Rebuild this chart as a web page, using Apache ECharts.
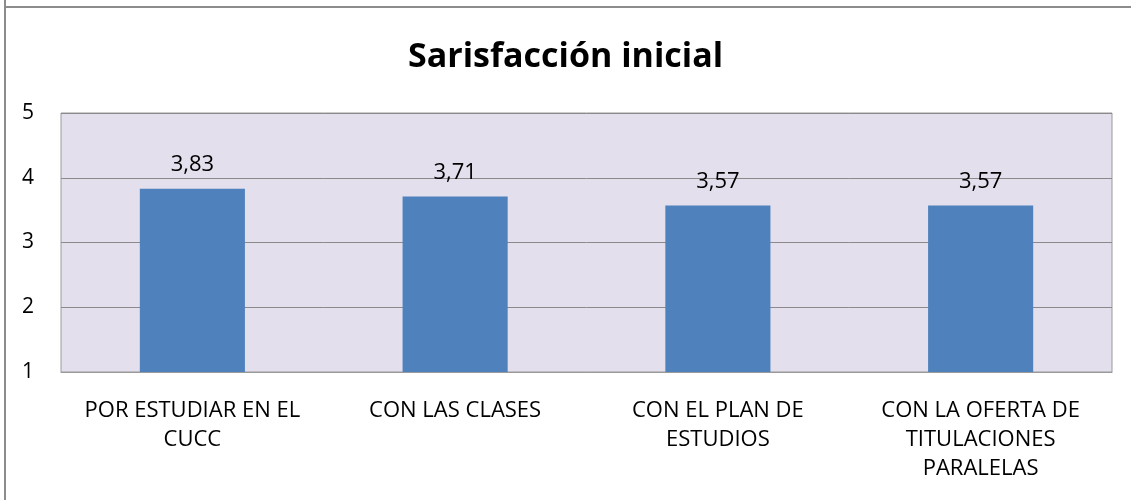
<!DOCTYPE html>
<html><head><meta charset="utf-8">
<script src="https://cdn.jsdelivr.net/npm/echarts@6/dist/echarts.min.js"></script>
<style>html,body{margin:0;padding:0;background:#fff}#c{width:1131px;height:500px}</style>
</head><body><div id="c"></div>
<script>
const titleText = 'Sarisfacción inicial';
const categories = ['POR ESTUDIAR EN EL\nCUCC', 'CON LAS CLASES', 'CON EL PLAN DE\nESTUDIOS', 'CON LA OFERTA DE\nTITULACIONES\nPARALELAS'];
const values = [3.83, 3.71, 3.57, 3.57];
const yTicks = [1, 2, 3, 4, 5];

const chart = echarts.init(document.getElementById('c'));
chart.setOption({
  animation: false,
  backgroundColor: '#fff',
  graphic: [
    { type: 'line', shape: { x1: 5, y1: 0, x2: 5, y2: 500 }, style: { stroke: '#8c8c8c', lineWidth: 2 } },
    { type: 'line', shape: { x1: 4, y1: 7, x2: 1131, y2: 7 }, style: { stroke: '#8c8c8c', lineWidth: 2 } }
  ],
  title: {
    text: titleText, left: 'center', top: 35,
    textStyle: { fontFamily: 'Open Sans', fontSize: 34, fontWeight: 'bold', color: '#000' }
  },
  grid: { left: 61, right: 19, top: 113, bottom: 128, show: true, backgroundColor: '#E4DFEC', borderColor: '#9a9a9a', borderWidth: 1 },
  xAxis: {
    type: 'category', data: categories,
    axisLine: { lineStyle: { color: '#9a9a9a' } },
    axisTick: { show: false },
    axisLabel: { interval: 0, color: '#000', fontFamily: 'Open Sans', fontSize: 22, lineHeight: 29, margin: 24 }
  },
  yAxis: {
    type: 'value', min: 1, max: 5, interval: 1,
    axisLine: { show: false }, axisTick: { show: false },
    splitLine: { lineStyle: { color: '#8a8a8a', width: 1 } },
    axisLabel: { color: '#000', fontFamily: 'Open Sans', fontSize: 21, margin: 27, formatter: v => yTicks.includes(v) ? String(v) : '' }
  },
  series: [{
    type: 'bar', data: values, barWidth: '40%',
    itemStyle: { color: '#4F81BD' },
    label: { show: true, position: 'top', distance: 13, color: '#000', fontFamily: 'Open Sans', fontSize: 22,
      formatter: p => p.value.toFixed(2).replace('.', ',') }
  }]
});
</script></body></html>
